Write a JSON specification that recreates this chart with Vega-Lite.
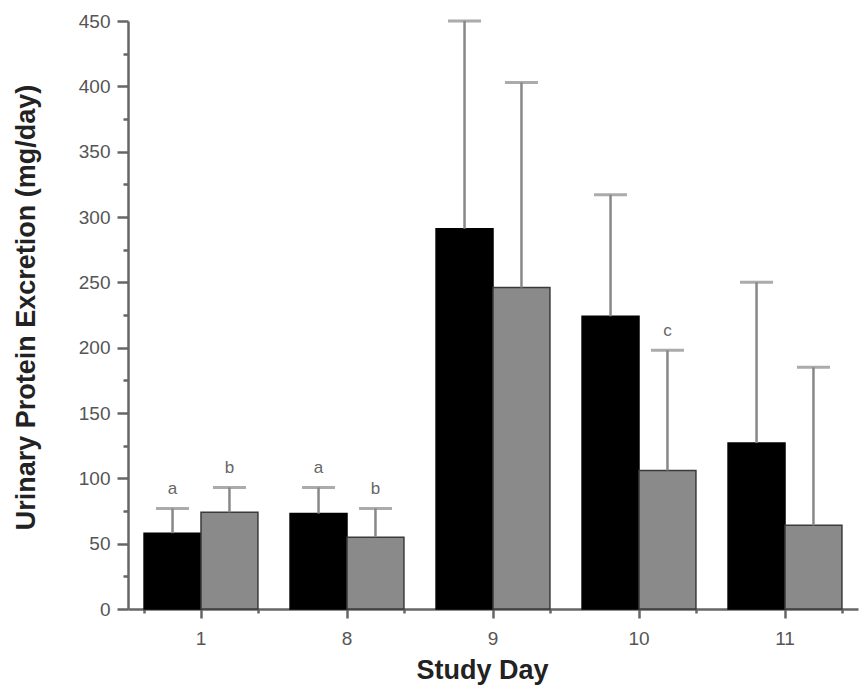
{
  "$schema": "https://vega.github.io/schema/vega-lite/v6.json",
  "width": 730,
  "height": 588,
  "autosize": {"type": "none"},
  "padding": {"left": 128, "top": 21, "right": 10, "bottom": 87},
  "background": "white",
  "config": {
    "view": {"stroke": null},
    "font": "Liberation Sans"
  },
  "data": {
    "values": [
      {"day": "1", "group": "A", "mean": 58, "upper": 77, "label": "a"},
      {"day": "1", "group": "B", "mean": 74, "upper": 93, "label": "b"},
      {"day": "8", "group": "A", "mean": 73, "upper": 93, "label": "a"},
      {"day": "8", "group": "B", "mean": 55, "upper": 77, "label": "b"},
      {"day": "9", "group": "A", "mean": 291, "upper": 450, "label": ""},
      {"day": "9", "group": "B", "mean": 246, "upper": 403, "label": ""},
      {"day": "10", "group": "A", "mean": 224, "upper": 317, "label": ""},
      {"day": "10", "group": "B", "mean": 106, "upper": 198, "label": "c"},
      {"day": "11", "group": "A", "mean": 127, "upper": 250, "label": ""},
      {"day": "11", "group": "B", "mean": 64, "upper": 185, "label": ""}
    ]
  },
  "resolve": {"axis": {"x": "independent", "y": "independent"}},
  "layer": [
    {
      "mark": {"type": "bar", "strokeWidth": 1.5},
      "encoding": {
        "x": {
          "field": "day", "type": "nominal", "sort": ["1", "8", "9", "10", "11"],
          "scale": {"paddingInner": 0.22, "paddingOuter": 0.11},
          "axis": {
            "orient": "bottom", "labelAngle": 0, "tickSize": 9, "tickWidth": 2.5, "tickColor": "#666",
            "domainColor": "#666", "domainWidth": 2.5, "labelFontSize": 19, "labelColor": "#555",
            "labelPadding": 11, "title": "Study Day", "titleFontSize": 27, "titleFontWeight": "bold",
            "titleColor": "#222", "titlePadding": 9, "titleX": 354
          }
        },
        "xOffset": {"field": "group", "type": "nominal", "scale": {"paddingInner": 0, "paddingOuter": 0}},
        "y": {
          "field": "mean", "type": "quantitative",
          "scale": {"domain": [0, 450], "nice": false},
          "axis": {
            "orient": "left", "values": [0, 50, 100, 150, 200, 250, 300, 350, 400, 450],
            "tickSize": 11, "tickWidth": 2.5, "tickColor": "#666", "domainColor": "#666", "domainWidth": 2.5,
            "grid": false, "labelFontSize": 19, "labelColor": "#555", "labelPadding": 7,
            "title": "Urinary Protein Excretion (mg/day)", "titleFontSize": 27, "titleFontWeight": "bold",
            "titleColor": "#222", "titlePadding": 38, "titleY": 286
          }
        },
        "color": {"field": "group", "type": "nominal", "scale": {"range": ["#000000", "#8a8a8a"]}, "legend": null},
        "stroke": {"field": "group", "type": "nominal", "scale": {"range": ["#000000", "#3a3a3a"]}, "legend": null}
      }
    },
    {
      "mark": {"type": "rule", "color": "#888", "strokeWidth": 2.5},
      "encoding": {
        "x": {
          "field": "day", "type": "nominal", "sort": ["1", "8", "9", "10", "11"],
          "axis": {
            "orient": "bottom", "tickBand": "extent", "labels": false, "domain": false,
            "tickSize": 4, "tickWidth": 2.5, "tickColor": "#666", "title": null
          }
        },
        "xOffset": {"field": "group", "type": "nominal"},
        "y": {
          "field": "mean", "type": "quantitative",
          "axis": {
            "orient": "left", "values": [25, 75, 125, 175, 225, 275, 325, 375, 425],
            "labels": false, "domain": false, "grid": false, "tickSize": 5, "tickWidth": 2.5,
            "tickColor": "#666", "title": null
          }
        },
        "y2": {"field": "upper"}
      }
    },
    {
      "mark": {"type": "tick", "color": "#888", "thickness": 3, "size": 33},
      "encoding": {
        "x": {"field": "day", "type": "nominal", "sort": ["1", "8", "9", "10", "11"], "axis": null},
        "xOffset": {"field": "group", "type": "nominal"},
        "y": {"field": "upper", "type": "quantitative", "axis": null}
      }
    },
    {
      "mark": {"type": "text", "fontSize": 17, "color": "#666", "baseline": "alphabetic", "dy": -14},
      "encoding": {
        "x": {"field": "day", "type": "nominal", "sort": ["1", "8", "9", "10", "11"], "axis": null},
        "xOffset": {"field": "group", "type": "nominal"},
        "y": {"field": "upper", "type": "quantitative", "axis": null},
        "text": {"field": "label"}
      }
    }
  ]
}
